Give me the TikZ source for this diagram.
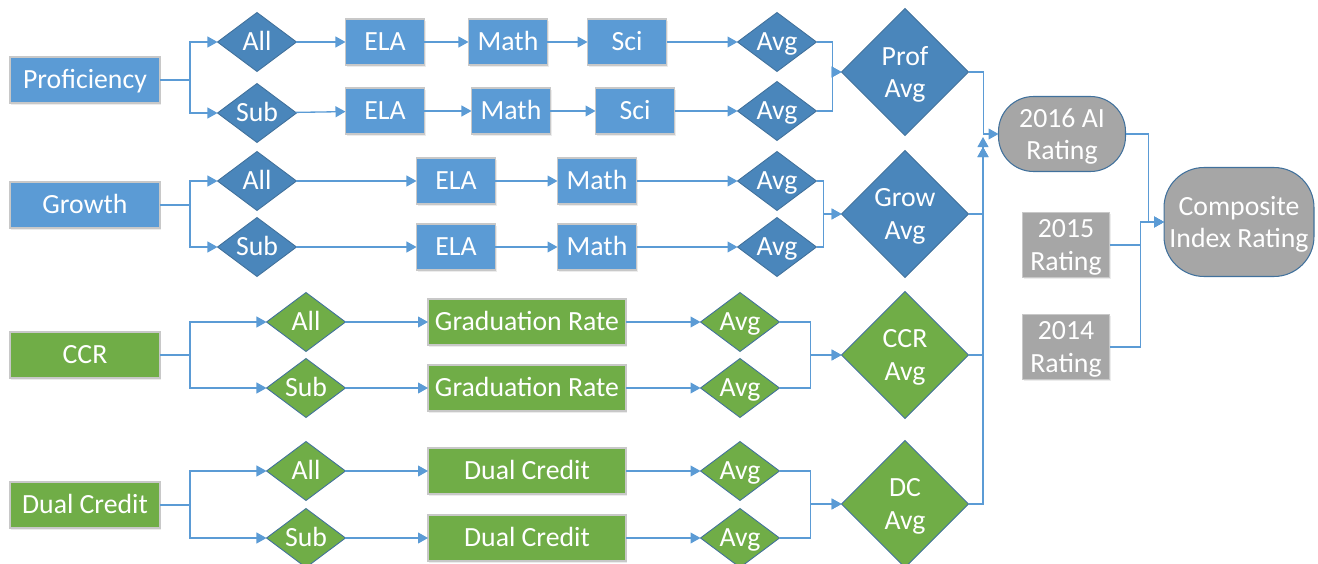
\documentclass[tikz,border=0pt]{standalone}
\usepackage{fontspec}
\setmainfont{Carlito}
\usetikzlibrary{shapes.geometric,arrows.meta,shadows}

\definecolor{boxblue}{RGB}{91,155,213}
\definecolor{dmdblue}{RGB}{74,134,187}
\definecolor{boxgreen}{RGB}{112,173,71}
\definecolor{rategray}{RGB}{166,166,166}
\definecolor{rimblue}{RGB}{65,113,156}
\definecolor{rimgray}{RGB}{200,200,200}
\definecolor{linkblue}{RGB}{91,155,213}

\begin{document}
\begin{tikzpicture}[x=0.02cm,y=-0.02cm,
    font=\fontsize{15.8}{18.5}\selectfont,
    every node/.style={text=white,inner sep=0pt,outer sep=0pt,align=center},
    oneline/.style={text height=10.2pt,text depth=0pt},
    box/.style={rectangle,draw=rimgray,line width=0.6pt,minimum height=0.92cm,oneline,
      drop shadow={opacity=0.15,shadow xshift=0.6pt,shadow yshift=-0.9pt}},
    catblue/.style={box,fill=boxblue,minimum width=3cm},
    catgreen/.style={box,fill=boxgreen,minimum width=3cm},
    bluebox/.style={box,fill=boxblue,minimum width=1.58cm},
    greenbox/.style={box,fill=boxgreen,minimum width=3.96cm},
    dmd/.style={diamond,draw=rimblue,line width=0.5pt,aspect=1.34,
      minimum width=1.58cm,minimum height=1.18cm,oneline},
    dmdb/.style={dmd,fill=dmdblue},
    dmdg/.style={dmd,fill=boxgreen},
    bigdmd/.style={diamond,draw=rimblue,line width=0.5pt,aspect=1,text depth=0pt,
      minimum width=2.54cm,minimum height=2.54cm},
    pill/.style={rectangle,draw=rimblue,line width=0.6pt,fill=rategray,text depth=0pt},
    graybox/.style={rectangle,draw=rimgray,line width=0.6pt,fill=rategray,text depth=0pt,
      minimum width=1.74cm,minimum height=1.3cm,
      drop shadow={opacity=0.15,shadow xshift=0.6pt,shadow yshift=-0.9pt}},
    link/.style={draw=linkblue,line width=0.75pt,-{Triangle[length=5.7pt,width=6.2pt]}}]
  \useasboundingbox (0,0) rectangle (1318,564);

  % proficiency
  \node[catblue] (prof) at (85,80) {Proficiency};
  \node[dmdb] (pAll) at (257,42) {All};
  \node[dmdb] (pSub) at (257,113) {Sub};
  \node[bluebox] (pEla1) at (385,42) {ELA};
  \node[bluebox] (pEla2) at (385,111) {ELA};
  \node[bluebox] (pMath1) at (508,42) {Math};
  \node[bluebox] (pMath2) at (511,111) {Math};
  \node[bluebox] (pSci1) at (627,42) {Sci};
  \node[bluebox] (pSci2) at (635,111) {Sci};
  \node[dmdb] (pAvg1) at (777,42) {Avg};
  \node[dmdb] (pAvg2) at (777,111) {Avg};
  \node[bigdmd,fill=dmdblue] (profAvg) at (905,72) {Prof\\Avg};

  \draw[link] (prof.east) -- ++(30,0) |- (pAll.west);
  \draw[link] (prof.east) -- ++(30,0) |- (pSub.west);
  \draw[link] (pAll) -- (pEla1);
  \draw[link] (pSub) -- (pEla2);
  \draw[link] (pEla1) -- (pMath1);
  \draw[link] (pEla2) -- (pMath2);
  \draw[link] (pMath1) -- (pSci1);
  \draw[link] (pMath2) -- (pSci2);
  \draw[link] (pSci1) -- (pAvg1);
  \draw[link] (pSci2) -- (pAvg2);
  \draw[link] (pAvg1.east) -- ++(16,0) |- (profAvg.west);
  \draw[link] (pAvg2.east) -- ++(16,0) |- (profAvg.west);

  % growth
  \node[catblue] (grow) at (85,205) {Growth};
  \node[dmdb] (gAll) at (257,181) {All};
  \node[dmdb] (gSub) at (257,247) {Sub};
  \node[bluebox] (gEla1) at (456,181) {ELA};
  \node[bluebox] (gEla2) at (456,247) {ELA};
  \node[bluebox] (gMath1) at (597,181) {Math};
  \node[bluebox] (gMath2) at (597,247) {Math};
  \node[dmdb] (gAvg1) at (777,181) {Avg};
  \node[dmdb] (gAvg2) at (777,247) {Avg};
  \node[bigdmd,fill=dmdblue] (growAvg) at (905,214) {Grow\\Avg};

  \draw[link] (grow.east) -- ++(30,0) |- (gAll.west);
  \draw[link] (grow.east) -- ++(30,0) |- (gSub.west);
  \draw[link] (gAll) -- (gEla1);
  \draw[link] (gSub) -- (gEla2);
  \draw[link] (gEla1) -- (gMath1);
  \draw[link] (gEla2) -- (gMath2);
  \draw[link] (gMath1) -- (gAvg1);
  \draw[link] (gMath2) -- (gAvg2);
  \draw[link] (gAvg1.east) -- ++(7,0) |- (growAvg.west);
  \draw[link] (gAvg2.east) -- ++(7,0) |- (growAvg.west);

  % college and career readiness
  \node[catgreen] (ccr) at (85,355) {CCR};
  \node[dmdg] (cAll) at (306,322) {All};
  \node[dmdg] (cSub) at (306,388) {Sub};
  \node[greenbox] (cGrad1) at (527,322) {Graduation Rate};
  \node[greenbox] (cGrad2) at (527,388) {Graduation Rate};
  \node[dmdg] (cAvg1) at (740,322) {Avg};
  \node[dmdg] (cAvg2) at (740,388) {Avg};
  \node[bigdmd,fill=boxgreen] (ccrAvg) at (905,355) {CCR\\Avg};

  \draw[link] (ccr.east) -- ++(30,0) |- (cAll.west);
  \draw[link] (ccr.east) -- ++(30,0) |- (cSub.west);
  \draw[link] (cAll) -- (cGrad1);
  \draw[link] (cSub) -- (cGrad2);
  \draw[link] (cGrad1) -- (cAvg1);
  \draw[link] (cGrad2) -- (cAvg2);
  \draw[link] (cAvg1.east) -- ++(31,0) |- (ccrAvg.west);
  \draw[link] (cAvg2.east) -- ++(31,0) |- (ccrAvg.west);

  % dual credit
  \node[catgreen] (dual) at (85,505) {Dual Credit};
  \node[dmdg] (dAll) at (306,471) {All};
  \node[dmdg] (dSub) at (306,538) {Sub};
  \node[greenbox] (dDc1) at (527,471) {Dual Credit};
  \node[greenbox] (dDc2) at (527,538) {Dual Credit};
  \node[dmdg] (dAvg1) at (740,471) {Avg};
  \node[dmdg] (dAvg2) at (740,538) {Avg};
  \node[bigdmd,fill=boxgreen] (dcAvg) at (905,504) {DC\\Avg};

  \draw[link] (dual.east) -- ++(30,0) |- (dAll.west);
  \draw[link] (dual.east) -- ++(30,0) |- (dSub.west);
  \draw[link] (dAll) -- (dDc1);
  \draw[link] (dSub) -- (dDc2);
  \draw[link] (dDc1) -- (dAvg1);
  \draw[link] (dDc2) -- (dAvg2);
  \draw[link] (dAvg1.east) -- ++(31,0) |- (dcAvg.west);
  \draw[link] (dAvg2.east) -- ++(31,0) |- (dcAvg.west);

  % ratings
  \node[pill,rounded corners=0.7cm,minimum width=2.54cm,minimum height=1.5cm] (ai) at (1062,134) {2016 AI\\Rating};
  \node[graybox] (r15) at (1066,245) {2015\\Rating};
  \node[graybox] (r14) at (1066,347) {2014\\Rating};
  \node[pill,rounded corners=0.8cm,minimum width=3cm,minimum height=2.18cm] (comp) at (1239,222) {Composite\\Index Rating};

  \coordinate (upA) at (983,137);
  \coordinate (upB) at (983,147);
  \draw[link] (profAvg.east) -- ++(15,0) |- (ai.west);
  \draw[link] (growAvg.east) -| (upA);
  \draw[link] (ccrAvg.east) -| (upB);
  \draw[link] (dcAvg.east) -| (upB);

  \draw[link] (ai.east) -- ++(23,0) |- (comp.west);
  \draw[link] (r15.east) -- ++(31,0) |- (comp.west);
  \draw[link] (r14.east) -- ++(31,0) |- (comp.west);
\end{tikzpicture}
\end{document}
